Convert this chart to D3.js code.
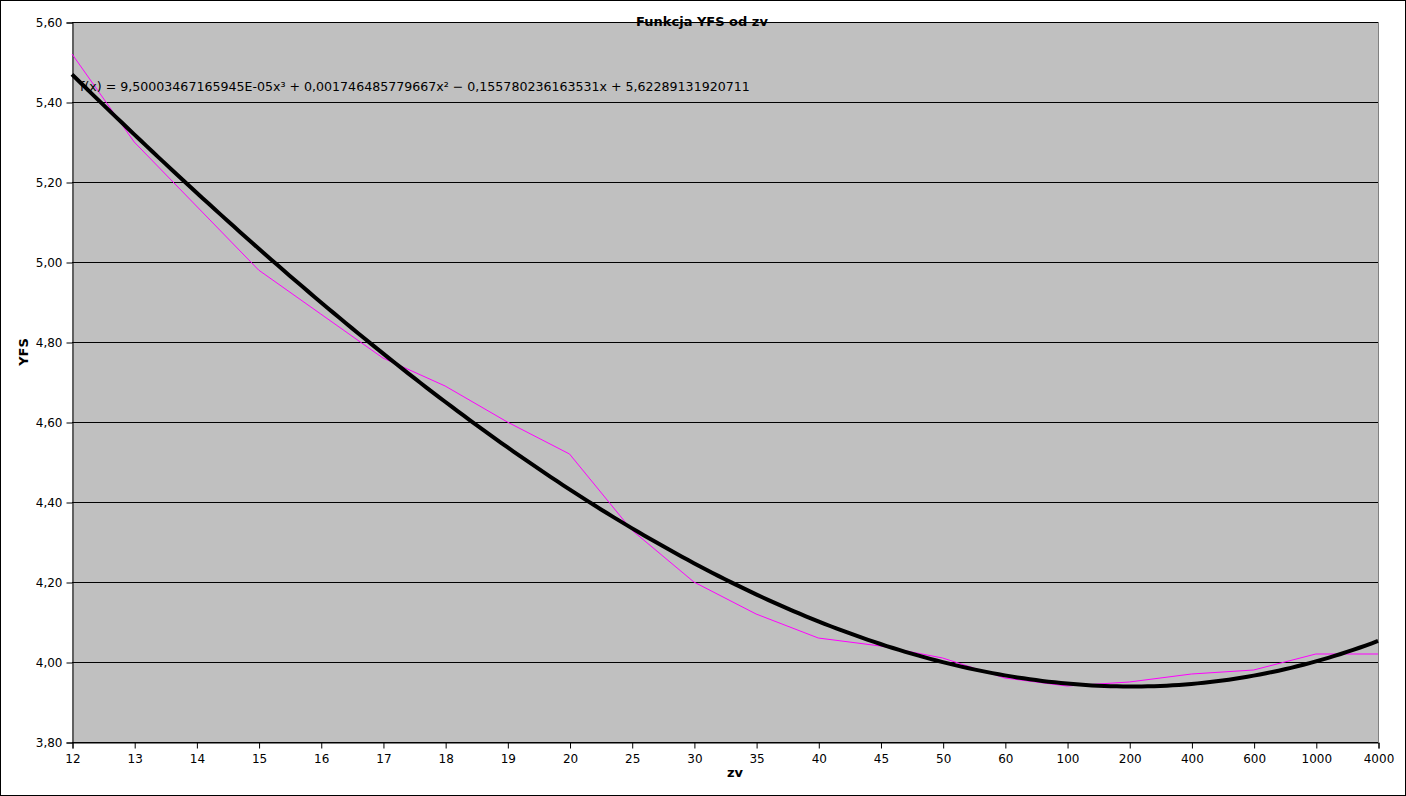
<!DOCTYPE html>
<html><head><meta charset="utf-8">
<script src="https://cdn.jsdelivr.net/npm/d3@7"></script>
<style>body{margin:0;background:#fff}svg{display:block}text{font-family:"DejaVu Sans",sans-serif}</style>
</head><body><svg id="c" width="1406" height="796"></svg>
<script>
const categories = ["12","13","14","15","16","17","18","19","20","25","30","35","40","45","50","60","100","200","400","600","1000","4000"];
const yfsValues = [5.52,5.30,5.14,4.98,4.87,4.76,4.69,4.60,4.52,4.33,4.20,4.12,4.06,4.04,4.01,3.96,3.94,3.95,3.97,3.98,4.02,4.02];
const yTicks = [3.8,4.0,4.2,4.4,4.6,4.8,5.0,5.2,5.4,5.6];
// trendline coefficients as shown in the chart (x = category index starting at 1)
const trendCoeffs = [9.50003467165945E-05, 0.001746485779667, -0.155780236163531, 5.62289131920711];
const trendText = "f(x) = 9,50003467165945E-05x³ + 0,001746485779667x² − 0,155780236163531x + 5,62289131920711";
const titleText = "Funkcja YFS od zv";

const svg = d3.select("#c");
const L = 72, R = 1378, T = 22, B = 742;
const x = d3.scaleLinear().domain([1, categories.length]).range([L, R]);
const y = d3.scaleLinear().domain([3.8, 5.6]).range([B, T]);
const fmt = v => d3.format(".2f")(v).replace(".", ",");

svg.append("rect").attr("x",0.5).attr("y",0.5).attr("width",1405).attr("height",795)
  .attr("fill","#fff").attr("stroke","#000");
svg.append("rect").attr("x",L).attr("y",T).attr("width",R-L).attr("height",B-T).attr("fill","#c0c0c0");

// gridlines
svg.append("g").selectAll("line").data(yTicks).join("line")
  .attr("x1",L).attr("x2",R).attr("y1",d=>Math.round(y(d))+0.5).attr("y2",d=>Math.round(y(d))+0.5)
  .attr("stroke","#000").attr("stroke-width",1);
// right border gray
svg.append("line").attr("x1",R+0.5).attr("x2",R+0.5).attr("y1",T).attr("y2",B).attr("stroke","#808080");

// y axis
const yAxis = d3.axisLeft(y).tickValues(yTicks).tickFormat(fmt).tickSize(6).tickPadding(4);
const gy = svg.append("g").attr("transform",`translate(${L+0.5},0.5)`).call(yAxis);
gy.selectAll("text").attr("font-size",12).attr("fill","#000").attr("font-family","DejaVu Sans");
gy.select(".domain").attr("stroke","#000");
// x axis
const xAxis = d3.axisBottom(x).tickValues(d3.range(1, categories.length+1)).tickFormat(d=>categories[d-1]).tickSize(6).tickPadding(6);
const gx = svg.append("g").attr("transform",`translate(0.5,${B+0.5})`).call(xAxis);
gx.selectAll("text").attr("font-size",12).attr("fill","#000").attr("font-family","DejaVu Sans");
gx.select(".domain").attr("stroke","#000");

// data series
const line = d3.line().x((d,i)=>x(i+1)).y(d=>y(d));
svg.append("path").datum(yfsValues).attr("d",line).attr("fill","none").attr("stroke","#ff00ff").attr("stroke-width",1);

// trendline
const poly = t => ((trendCoeffs[0]*t + trendCoeffs[1])*t + trendCoeffs[2])*t + trendCoeffs[3];
const tPts = d3.range(1, categories.length + 0.001, 0.1).map(t => [t, poly(t)]);
svg.append("path").datum(tPts).attr("d", d3.line().x(d=>x(d[0])).y(d=>y(d[1])))
  .attr("fill","none").attr("stroke","#000").attr("stroke-width",4).attr("stroke-linejoin","round");

svg.append("text").attr("x",80).attr("y",91).attr("font-size",12.6).attr("fill","#000").text(trendText);

svg.append("text").attr("x",702).attr("y",26).attr("text-anchor","middle").attr("font-size",13)
  .attr("font-weight","bold").attr("fill","#000").text(titleText);
svg.append("text").attr("x",735).attr("y",777).attr("text-anchor","middle").attr("font-size",13)
  .attr("font-weight","bold").text("zv");
svg.append("text").attr("transform","translate(28,352) rotate(-90)").attr("text-anchor","middle")
  .attr("font-size",13).attr("font-weight","bold").text("YFS");
</script></body></html>
